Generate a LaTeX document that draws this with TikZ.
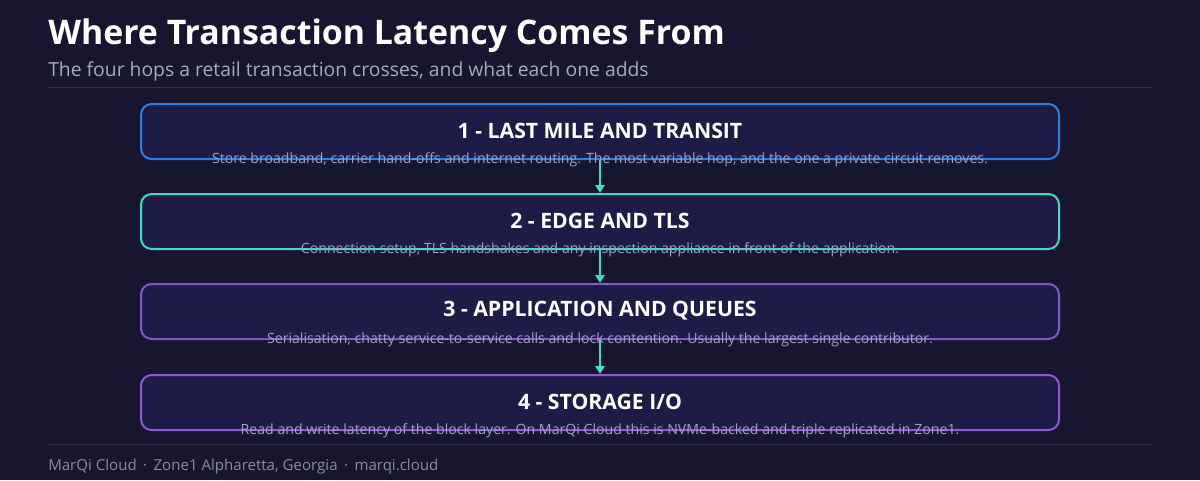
\documentclass[tikz,border=0pt]{standalone}
\usepackage{fontspec}
\setmainfont{Open Sans}
\usetikzlibrary{arrows.meta}
\definecolor{bg}{HTML}{17152F}
\definecolor{boxfill}{HTML}{1E1C47}
\definecolor{cA}{HTML}{2E7FE0}
\definecolor{cB}{HTML}{45D8C8}
\definecolor{cC}{HTML}{8457D0}
\definecolor{cD}{HTML}{9358D6}
\definecolor{desc}{HTML}{9DA2C9}
\definecolor{sub}{HTML}{A7AAC4}
\definecolor{rule}{HTML}{34334F}
\definecolor{arr}{HTML}{3FDCC6}
\begin{document}
\begin{tikzpicture}[x=0.75pt,y=-0.75pt,
  hop/.style={draw, line width=1.5pt, fill=boxfill, rounded corners=8pt, minimum width=918*0.75pt, minimum height=55*0.75pt, inner sep=0pt},
  htitle/.style={font=\bfseries\fontsize{15.9}{19}\selectfont, text=white},
  hdesc/.style={font=\fontsize{10.6}{13}\selectfont, text=desc},
  link/.style={draw=arr, line width=1.5pt, -{Triangle[length=6pt,width=7pt]}}]
\fill[bg] (0,0) rectangle (1200,480);
\useasboundingbox (0,0) rectangle (1200,480);
\node[anchor=west, inner sep=0pt, font=\bfseries\fontsize{25.4}{30}\selectfont, text=white] (title) at (48,36) {Where Transaction Latency Comes From};
\node[anchor=west, inner sep=0pt, font=\fontsize{14.5}{17}\selectfont, text=sub] (subtitle) at (48,71) {The four hops a retail transaction crosses, and what each one adds};
\draw[rule, line width=0.75pt] (48,87) -- (1152,87);
\draw[rule, line width=0.75pt] (48,444) -- (1152,444);
\node[anchor=west, inner sep=0pt, font=\fontsize{11.3}{13}\selectfont, text=sub!80!bg] (footer) at (48,467) {MarQi Cloud \,·\, Zone1 Alpharetta, Georgia \,·\, marqi.cloud};

\node[hop, draw=cA] (b1) at (600,131.5) {};
\node[hop, draw=cB] (b2) at (600,221.5) {};
\node[hop, draw=cC] (b3) at (600,311.5) {};
\node[hop, draw=cD] (b4) at (600,402.5) {};

\node[htitle] (t1) at (600,131) {1 - LAST MILE AND TRANSIT};
\node[htitle] (t2) at (600,221) {2 - EDGE AND TLS};
\node[htitle] (t3) at (600,311) {3 - APPLICATION AND QUEUES};
\node[htitle] (t4) at (600,402) {4 - STORAGE I/O};

\draw[link] (b1.south) -- (b2.north);
\draw[link] (b2.south) -- (b3.north);
\draw[link] (b3.south) -- (b4.north);

\node[hdesc] (d1) at (600,160) {Store broadband, carrier hand-offs and internet routing. The most variable hop, and the one a private circuit removes.};
\node[hdesc] (d2) at (600,250) {Connection setup, TLS handshakes and any inspection appliance in front of the application.};
\node[hdesc] (d3) at (600,340) {Serialisation, chatty service-to-service calls and lock contention. Usually the largest single contributor.};
\node[hdesc] (d4) at (600,431) {Read and write latency of the block layer. On MarQi Cloud this is NVMe-backed and triple replicated in Zone1.};
\end{tikzpicture}
\end{document}
